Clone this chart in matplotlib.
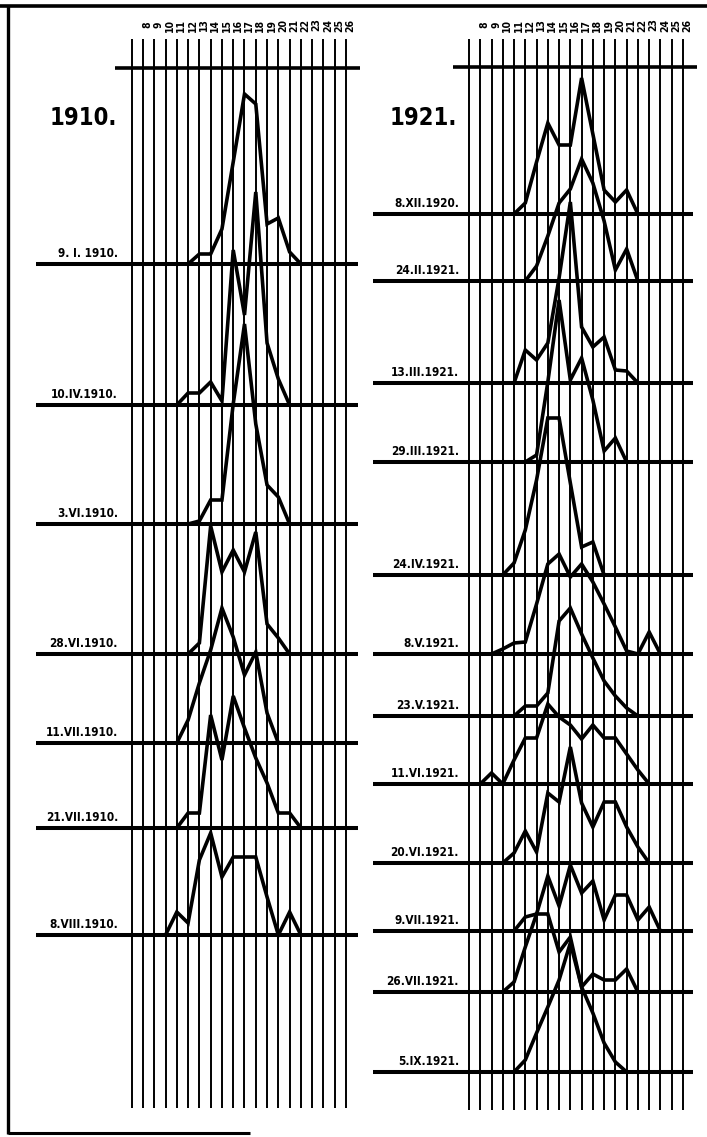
import matplotlib
matplotlib.use("Agg")
import matplotlib.pyplot as plt
import numpy as np

# ---------------- data ----------------
classes = list(range(20))                      # measurement classes (columns)
class_labels_1910 = [str(n) for n in range(8, 27)]   # labels above columns 1..19
class_labels_1921 = [str(n) for n in range(8, 27)]

dates_1910 = ["9. I. 1910.", "10.IV.1910.", "3.VI.1910.", "28.VI.1910.",
              "11.VII.1910.", "21.VII.1910.", "8.VIII.1910."]
v1910_0109 = [0, 0, 0, 0, 0, 0, 10, 10, 35, 102, 170, 160, 40, 46, 12, 0, 0, 0, 0, 0]
v1910_1004 = [0, 0, 0, 0, 0, 12, 12, 23, 4, 155, 90, 213, 62, 26, 0, 0, 0, 0, 0, 0]
v1910_0306 = [0, 0, 0, 0, 0, 0, 3, 24, 24, 120, 200, 100, 39, 27, 0, 0, 0, 0, 0, 0]
v1910_2806 = [0, 0, 0, 0, 0, 0, 11, 128, 82, 104, 82, 122, 30, 16, 0, 0, 0, 0, 0, 0]
v1910_1107 = [0, 0, 0, 0, 0, 23, 60, 93, 135, 106, 68, 91, 30, 0, 0, 0, 0, 0, 0, 0]
v1910_2107 = [0, 0, 0, 0, 0, 15, 15, 113, 68, 132, 100, 70, 45, 15, 15, 0, 0, 0, 0, 0]
v1910_0808 = [0, 0, 0, 0, 23, 12, 75, 102, 58, 78, 78, 78, 38, 0, 23, 0, 0, 0, 0, 0]
series_1910 = [v1910_0109, v1910_1004, v1910_0306, v1910_2806,
               v1910_1107, v1910_2107, v1910_0808]

dates_1921 = ["8.XII.1920.", "24.II.1921.", "13.III.1921.", "29.III.1921.",
              "24.IV.1921.", "8.V.1921.", "23.V.1921.", "11.VI.1921.",
              "20.VI.1921.", "9.VII.1921.", "26.VII.1921.", "5.IX.1921."]
v1921_0812 = [0, 0, 0, 0, 0, 11, 52, 91, 69, 69, 136, 80, 24, 12, 24, 0, 0, 0, 0, 0]
v1921_2402 = [0, 0, 0, 0, 0, 0, 15, 45, 78, 92, 122, 98, 60, 11, 32, 0, 0, 0, 0, 0]
v1921_1303 = [0, 0, 0, 0, 0, 33, 23, 40, 105, 181, 56, 36, 46, 13, 12, 0, 0, 0, 0, 0]
v1921_2903 = [0, 0, 0, 0, 0, 0, 7, 80, 162, 82, 104, 62, 11, 24, 0, 0, 0, 0, 0, 0]
v1921_2404 = [0, 0, 0, 0, 12, 45, 95, 157, 157, 92, 28, 33, 0, 0, 0, 0, 0, 0, 0, 0]
v1921_0805 = [0, 0, 0, 5, 11, 12, 50, 90, 100, 77, 90, 72, 50, 27, 3, 0, 22, 0, 0, 0]
v1921_2305 = [0, 0, 0, 0, 0, 10, 10, 23, 95, 108, 82, 58, 35, 20, 8, 0, 0, 0, 0, 0]
v1921_1106 = [0, 0, 11, 0, 24, 46, 46, 80, 67, 59, 45, 59, 46, 46, 30, 14, 0, 0, 0, 0]
v1921_2006 = [0, 0, 0, 0, 10, 32, 11, 70, 61, 116, 60, 36, 61, 61, 36, 16, 0, 0, 0, 0]
v1921_0907 = [0, 0, 0, 0, 0, 14, 17, 55, 25, 66, 38, 50, 11, 36, 36, 11, 24, 0, 0, 0]
v1921_2607 = [0, 0, 0, 0, 10, 45, 78, 78, 40, 55, 5, 18, 12, 12, 23, 0, 0, 0, 0, 0]
v1921_0509 = [0, 0, 0, 0, 0, 12, 39, 65, 92, 129, 85, 59, 29, 10, 0, 0, 0, 0, 0, 0]
series_1921 = [v1921_0812, v1921_2402, v1921_1303, v1921_2903, v1921_2404,
               v1921_0805, v1921_2305, v1921_1106, v1921_2006, v1921_0907,
               v1921_2607, v1921_0509]

# ---------------- layout ----------------
W, H = 707, 1137
base_1910 = [264, 405, 524, 654, 743, 828, 935]
base_1921 = [214, 281, 383, 462, 575, 654, 716, 784, 863, 931, 992, 1072]

FONT = ["Liberation Sans Narrow", "DejaVu Sans"]
STRETCH = "condensed"
LW_CURVE = 2.6
LW_BASE = 2.9
LW_GRID = 1.4

fig = plt.figure(figsize=(W / 100, H / 100), dpi=100)
fig.patch.set_facecolor("white")
bg = fig.add_axes([0, 0, 1, 1])
bg.set_xlim(0, W)
bg.set_ylim(H, 0)
bg.axis("off")

# frame
bg.plot([0, W], [6, 6], color="k", lw=2.6, solid_capstyle="butt")
bg.plot([8, 8], [5, 1134], color="k", lw=2.4, solid_capstyle="butt")
bg.plot([8, 250], [1133, 1133], color="k", lw=2.2, solid_capstyle="butt")


def panel(px_left, px_right, x0, dx, vtop, vbot, htop_y, hl, hr,
          bases, series, dates, bl_left, bl_right, lab_right, clabels,
          year, year_xy):
    ax = fig.add_axes([px_left / W, 0, (px_right - px_left) / W, 1])
    ax.set_xlim((px_left - x0) / dx, (px_right - x0) / dx)
    ax.set_ylim(H, 0)
    ax.axis("off")
    ax.patch.set_alpha(0)
    tox = lambda p: (p - x0) / dx
    ax.vlines(classes, vtop, vbot, color="k", lw=LW_GRID)
    ax.hlines(htop_y, tox(hl), tox(hr), color="k", lw=2.6)
    for i, lab in enumerate(clabels):
        ax.text(i + 1 + 0.4, 25, lab, rotation=90, ha="center", va="center",
                fontsize=7.5, fontweight="bold", family=FONT, fontstretch=STRETCH)
    for b, vals, d in zip(bases, series, dates):
        ax.hlines(b, tox(bl_left), tox(bl_right), color="k", lw=LW_BASE)
        ax.plot(classes, b - np.asarray(vals, float), color="k", lw=LW_CURVE,
                solid_joinstyle="miter", solid_capstyle="butt")
        ax.text(tox(lab_right), b - 4, d, ha="right", va="bottom",
                fontsize=8.5, fontweight="bold", family=FONT, fontstretch=STRETCH)
    ax.text(tox(year_xy[0]), year_xy[1], year, ha="left", va="center",
            fontsize=17, fontweight="bold", family=FONT, fontstretch=STRETCH)
    return ax


panel(20, 365, 131.7, 11.28, 39, 1108, 68, 115, 360,
      base_1910, series_1910, dates_1910, 36, 358, 118, class_labels_1910,
      "1910.", (50, 118))
panel(365, 707, 469.0, 11.26, 39, 1110, 67, 453, 697,
      base_1921, series_1921, dates_1921, 373, 693, 459, class_labels_1921,
      "1921.", (390, 118))

fig.savefig("out.png", dpi=100, facecolor="white")
